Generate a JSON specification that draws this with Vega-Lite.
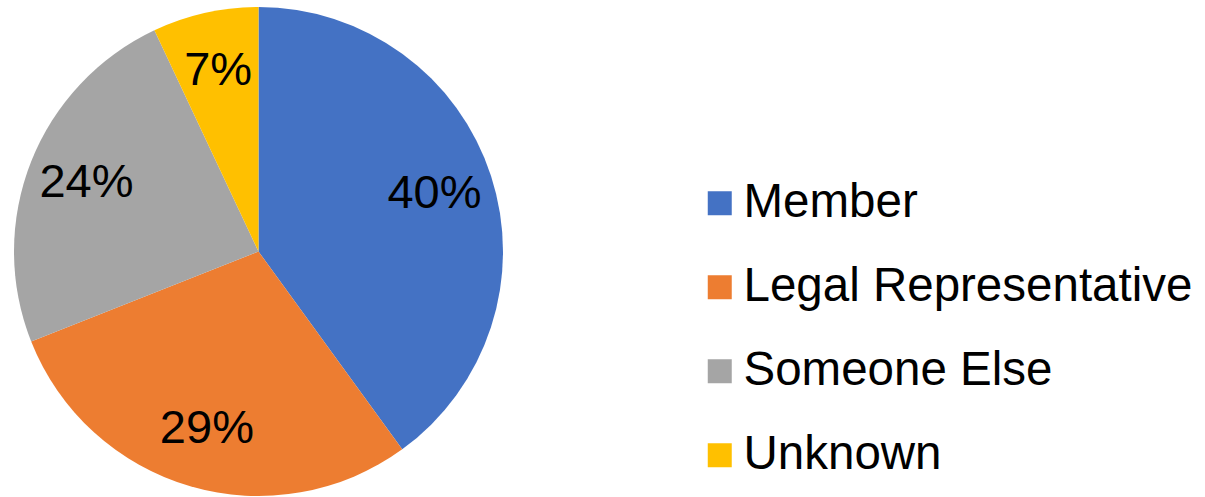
{
  "$schema": "https://vega.github.io/schema/vega-lite/v6.json",
  "width": 517,
  "height": 491,
  "padding": {"top": 6, "left": 0, "right": 688, "bottom": 0},
  "autosize": {"type": "none"},
  "background": "white",
  "config": {"view": {"stroke": null}, "font": "Liberation Sans"},
  "data": {
    "values": [
      {"category": "Member", "value": 40, "order": 1, "label": "40%"},
      {"category": "Legal Representative", "value": 29, "order": 2, "label": "29%"},
      {"category": "Someone Else", "value": 24, "order": 3, "label": "24%"},
      {"category": "Unknown", "value": 7, "order": 4, "label": "7%"}
    ]
  },
  "encoding": {
    "theta": {"field": "value", "type": "quantitative", "stack": true},
    "order": {"field": "order", "type": "quantitative"}
  },
  "layer": [
    {
      "mark": {"type": "arc", "outerRadius": 244.5},
      "encoding": {
        "color": {
          "field": "category",
          "type": "nominal",
          "sort": ["Member", "Legal Representative", "Someone Else", "Unknown"],
          "scale": {
            "domain": ["Member", "Legal Representative", "Someone Else", "Unknown"],
            "range": ["#4472C4", "#ED7D31", "#A5A5A5", "#FFC000"]
          },
          "legend": {
            "title": null,
            "orient": "none",
            "legendX": 696,
            "legendY": 173.5,
            "symbolType": "square",
            "symbolSize": 576,
            "symbolStrokeWidth": 0,
            "symbolOpacity": 1,
            "labelFontSize": 47.5,
            "labelFont": "Liberation Sans",
            "labelColor": "black",
            "labelOffset": 0,
            "labelLimit": 600,
            "rowPadding": 35,
            "padding": 0
          }
        }
      }
    },
    {
      "mark": {"type": "text", "radius": 185, "fontSize": 47, "font": "Liberation Sans", "color": "black", "baseline": "middle", "align": "center"},
      "encoding": {
        "text": {"field": "label", "type": "nominal"}
      }
    }
  ]
}
